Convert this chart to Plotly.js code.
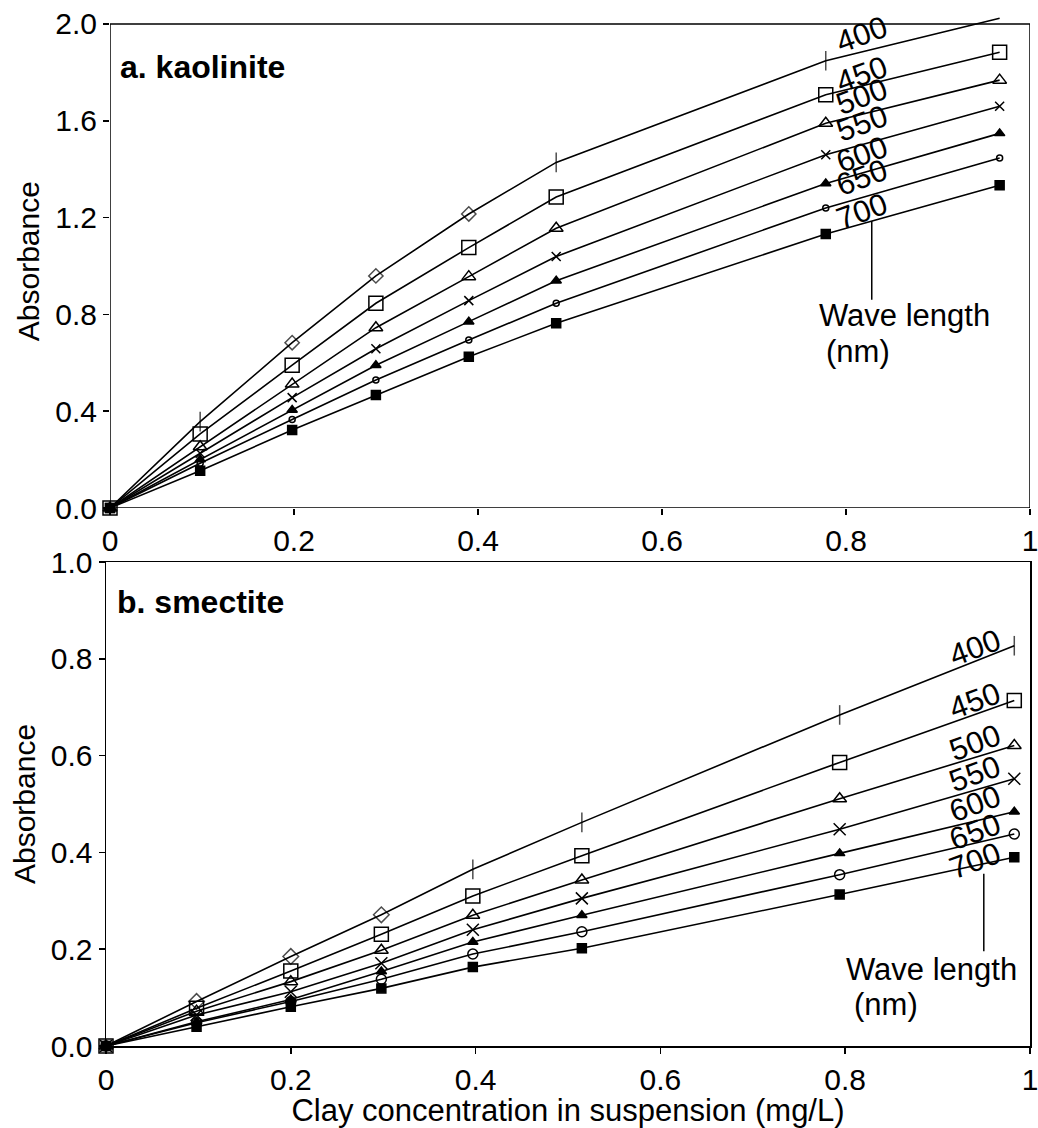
<!DOCTYPE html>
<html><head><meta charset="utf-8">
<script src="https://cdn.plot.ly/plotly-3.0.1.min.js"></script>
<style>html,body{margin:0;padding:0;background:#fff}</style>
</head><body><div id="chart" style="width:1038px;height:1128px"></div>
<script>
// ---- data ----
const wavelengths = ['400','450','500','550','600','650','700'];
const concA = [0, 0.098, 0.198, 0.289, 0.39, 0.485, 0.778, 0.967];
const kao400 = [0, 0.357, 0.683, 0.959, 1.215, 1.428, 1.848, 2.024];
const kao450 = [0, 0.306, 0.59, 0.846, 1.076, 1.285, 1.708, 1.883];
const kao500 = [0, 0.253, 0.512, 0.745, 0.956, 1.156, 1.59, 1.768];
const kao550 = [0, 0.226, 0.456, 0.658, 0.857, 1.039, 1.46, 1.66];
const kao600 = [0, 0.2, 0.405, 0.59, 0.77, 0.939, 1.341, 1.548];
const kao650 = [0, 0.185, 0.366, 0.529, 0.694, 0.846, 1.24, 1.446];
const kao700 = [0, 0.154, 0.322, 0.467, 0.625, 0.763, 1.132, 1.334];
const concB = [0, 0.098, 0.2, 0.298, 0.397, 0.515, 0.794, 0.983];
const sme400 = [0, 0.092, 0.185, 0.271, 0.365, 0.462, 0.684, 0.827];
const sme450 = [0, 0.078, 0.155, 0.231, 0.31, 0.393, 0.586, 0.714];
const sme500 = [0, 0.072, 0.133, 0.198, 0.27, 0.343, 0.511, 0.621];
const sme550 = [0, 0.064, 0.112, 0.171, 0.24, 0.305, 0.448, 0.552];
const sme600 = [0, 0.05, 0.096, 0.154, 0.215, 0.27, 0.398, 0.484];
const sme650 = [0, 0.048, 0.092, 0.138, 0.19, 0.236, 0.354, 0.438];
const sme700 = [0, 0.04, 0.081, 0.119, 0.163, 0.202, 0.313, 0.39];
const xTicks = [0, 0.2, 0.4, 0.6, 0.8, 1];
const yTicksA = [0, 0.4, 0.8, 1.2, 1.6, 2.0];
const yTicksB = [0, 0.2, 0.4, 0.6, 0.8, 1.0];

// ---- styles ----
const FONT = 'Arial, "Liberation Sans", sans-serif';
const kaoSeries = [kao400, kao450, kao500, kao550, kao600, kao650, kao700];
const smeSeries = [sme400, sme450, sme500, sme550, sme600, sme650, sme700];
const stylesA = [
  {symbol:['square','line-ns-open','diamond-open','diamond-open','diamond-open','line-ns-open','line-ns-open','line-ns-open'], size:[9,14,11,11,11,14,14,0]},
  {symbol:'square-open', size:14},
  {symbol:'triangle-up-open', size:12},
  {symbol:'x-thin-open', size:9},
  {symbol:'triangle-up', size:9},
  {symbol:'circle-open', size:6},
  {symbol:'square', size:9}
];
const stylesB = [
  {symbol:['square','diamond-open','diamond-open','diamond-open','line-ns-open','line-ns-open','line-ns-open','line-ns-open'], size:[9,12,12,12,14,14,14,14]},
  {symbol:'square-open', size:14},
  {symbol:'triangle-up-open', size:12},
  {symbol:'x-thin-open', size:12},
  {symbol:'triangle-up', size:9},
  {symbol:'circle-open', size:10},
  {symbol:'square', size:9}
];
const traces = [];
wavelengths.forEach((w, i) => {
  traces.push({x: concA, y: kaoSeries[i], xaxis:'x', yaxis:'y', type:'scatter', mode:'lines+markers',
    name: w + ' nm', cliponaxis:false, line:{color:'#000', width:1.6},
    marker:{symbol: stylesA[i].symbol, size: stylesA[i].size, color:'#000', line:{color:'#000', width:1.5}}});
  traces.push({x: concB, y: smeSeries[i], xaxis:'x2', yaxis:'y2', type:'scatter', mode:'lines+markers',
    name: w + ' nm', cliponaxis:false, line:{color:'#000', width:1.6},
    marker:{symbol: stylesB[i].symbol, size: stylesB[i].size, color:'#000', line:{color:'#000', width:1.5}}});
});

// label positions (layout only)
const labelPosA = [[0.817,1.955],[0.817,1.79],[0.817,1.70],[0.817,1.59],[0.817,1.462],[0.817,1.366],[0.817,1.226]];
const labelPosB = [[0.941,0.824],[0.941,0.713],[0.941,0.628],[0.941,0.562],[0.941,0.502],[0.941,0.444],[0.941,0.384]];
const LBL = {family:FONT, size:31, color:'#000'};
const annotations = [];
wavelengths.forEach((w, i) => {
  annotations.push({xref:'x', yref:'y', x:labelPosA[i][0], y:labelPosA[i][1], text:w, showarrow:false, textangle:-20, font:LBL});
  annotations.push({xref:'x2', yref:'y2', x:labelPosB[i][0], y:labelPosB[i][1], text:w, showarrow:false, textangle:-20, font:LBL});
});
const TXT = {family:FONT, size:31, color:'#000'};
annotations.push({xref:'x', yref:'y', x:0.768, y:0.797, xanchor:'left', text:'Wave length', showarrow:false, font:TXT});
annotations.push({xref:'x', yref:'y', x:0.776, y:0.645, xanchor:'left', text:'(nm)', showarrow:false, font:TXT});
annotations.push({xref:'x2', yref:'y2', x:0.799, y:0.159, xanchor:'left', text:'Wave length', showarrow:false, font:TXT});
annotations.push({xref:'x2', yref:'y2', x:0.807, y:0.085, xanchor:'left', text:'(nm)', showarrow:false, font:TXT});
annotations.push({xref:'x', yref:'y', x:0.009, y:1.822, xanchor:'left', text:'<b>a. kaolinite</b>', showarrow:false, font:{family:FONT, size:32, color:'#000'}});
annotations.push({xref:'x2', yref:'y2', x:0.010, y:0.918, xanchor:'left', text:'<b>b. smectite</b>', showarrow:false, font:{family:FONT, size:32, color:'#000'}});

const shapes = [
  {type:'rect', xref:'x', yref:'y', x0:0, x1:1, y0:0, y1:2, line:{color:'#000', width:1.5}},
  {type:'line', xref:'x', yref:'y', x0:0.828, x1:0.828, y0:1.186, y1:0.86, line:{color:'#000', width:1.5}},
  {type:'line', xref:'x2', yref:'y2', x0:0.95, x1:0.95, y0:0.356, y1:0.196, line:{color:'#000', width:1.5}}
];

const axCommon = {showgrid:false, zeroline:false, ticks:'outside', ticklen:6, tickwidth:1.5, tickcolor:'#000',
  ticklabeloverflow:'allow',
  tickfont:{family:FONT, size:30, color:'#000'}, linecolor:'#000', linewidth:1.5};
const TITLE = {family:FONT, size:30, color:'#000'};
const W = 1038, H = 1128;
const layout = {
  width:W, height:H, margin:{l:0, r:0, t:0, b:0}, showlegend:false,
  paper_bgcolor:'#fff', plot_bgcolor:'#fff', font:{family:FONT, color:'#000'},
  xaxis: Object.assign({}, axCommon, {domain:[110/W, 1030/W], range:[0,1], anchor:'y', tickvals:xTicks, showline:false}),
  yaxis: Object.assign({}, axCommon, {domain:[620/H, 1113.7/H], range:[0,2.04], anchor:'x', tickvals:yTicksA, tickformat:'.1f', showline:false,
    title:{text:'Absorbance', font:TITLE, standoff:6}}),
  xaxis2: Object.assign({}, axCommon, {domain:[106/W, 1030/W], range:[0,1], anchor:'y2', tickvals:xTicks, showline:true, mirror:true,
    title:{text:'Clay concentration in suspension (mg/L)', font:{family:FONT, size:31, color:'#000'}, standoff:0}}),
  yaxis2: Object.assign({}, axCommon, {domain:[82/H, 566/H], range:[0,1], anchor:'x2', tickvals:yTicksB, tickformat:'.1f', showline:true, mirror:true,
    title:{text:'Absorbance', font:TITLE, standoff:6}}),
  annotations: annotations, shapes: shapes
};
Plotly.newPlot('chart', traces, layout, {staticPlot:true});
</script></body></html>
